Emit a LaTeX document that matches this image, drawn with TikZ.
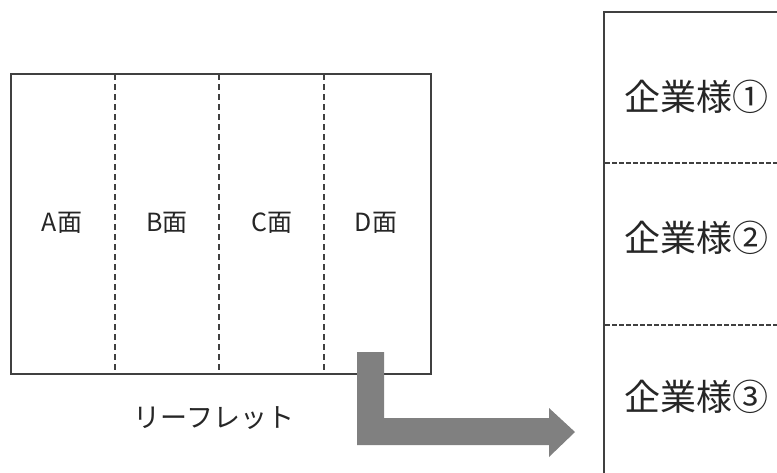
\documentclass[tikz,border=0pt]{standalone}
\usepackage{fontspec}
\setmainfont{Noto Sans CJK JP}
\tikzset{
  frame/.style={draw=black!75, line width=1.6pt},
  fold/.style={draw=black!75, line width=1.3pt, dash pattern=on 6pt off 4pt},
  hfold/.style={draw=black!75, line width=1.1pt, dash pattern=on 4.5pt off 2.5pt},
  lbl/.style={inner sep=0pt, font=\fontsize{25}{27}\selectfont, text=black!85},
  corp/.style={inner sep=0pt, anchor=west, font=\fontsize{36}{38}\selectfont, text=black!85},
  bigarrow/.style={fill=black!50, draw=none}
}
\begin{document}
\begin{tikzpicture}[x=1pt,y=-1pt]
\useasboundingbox (0,0) rectangle (777,472);
% leaflet
\node[frame, minimum width=420pt, minimum height=300pt, inner sep=0pt, anchor=north west] (leaf) at (10,73) {};
\foreach \xx/\n in {115/f1,219/f2,324/f3}{
  \coordinate (\n t) at (\xx,74);
  \coordinate (\n b) at (\xx,372);
  \draw[fold] (\n t) -- (\n b);
}
\node[lbl] (A) at (62,223) {A面};
\node[lbl] (B) at (167,223) {B面};
\node[lbl] (C) at (272,223) {C面};
\node[lbl] (D) at (376,223) {D面};
\node[lbl, font=\fontsize{27}{29}\selectfont] (cap) at (214,418) {リーフレット};
% right box
\coordinate (rtl) at (604,12);
\coordinate (rtr) at (790,12);
\coordinate (rbl) at (604,480);
\draw[frame] (rtr) -- (rtl) -- (rbl);
\coordinate (d1l) at (605,163);
\coordinate (d1r) at (777,163);
\coordinate (d2l) at (605,325);
\coordinate (d2r) at (777,325);
\draw[hfold] (d1l) -- (d1r);
\draw[hfold] (d2l) -- (d2r);
\node[corp] (c1) at (624,97) {企業様①};
\node[corp] (c2) at (624,238) {企業様②};
\node[corp] (c3) at (624,397) {企業様③};
% arrow
\fill[bigarrow] (357,352) -- (384,352) -- (384,418) -- (549,418) -- (549,408)
  -- (575,432) -- (549,457) -- (549,445) -- (357,445) -- cycle;
\end{tikzpicture}
\end{document}
